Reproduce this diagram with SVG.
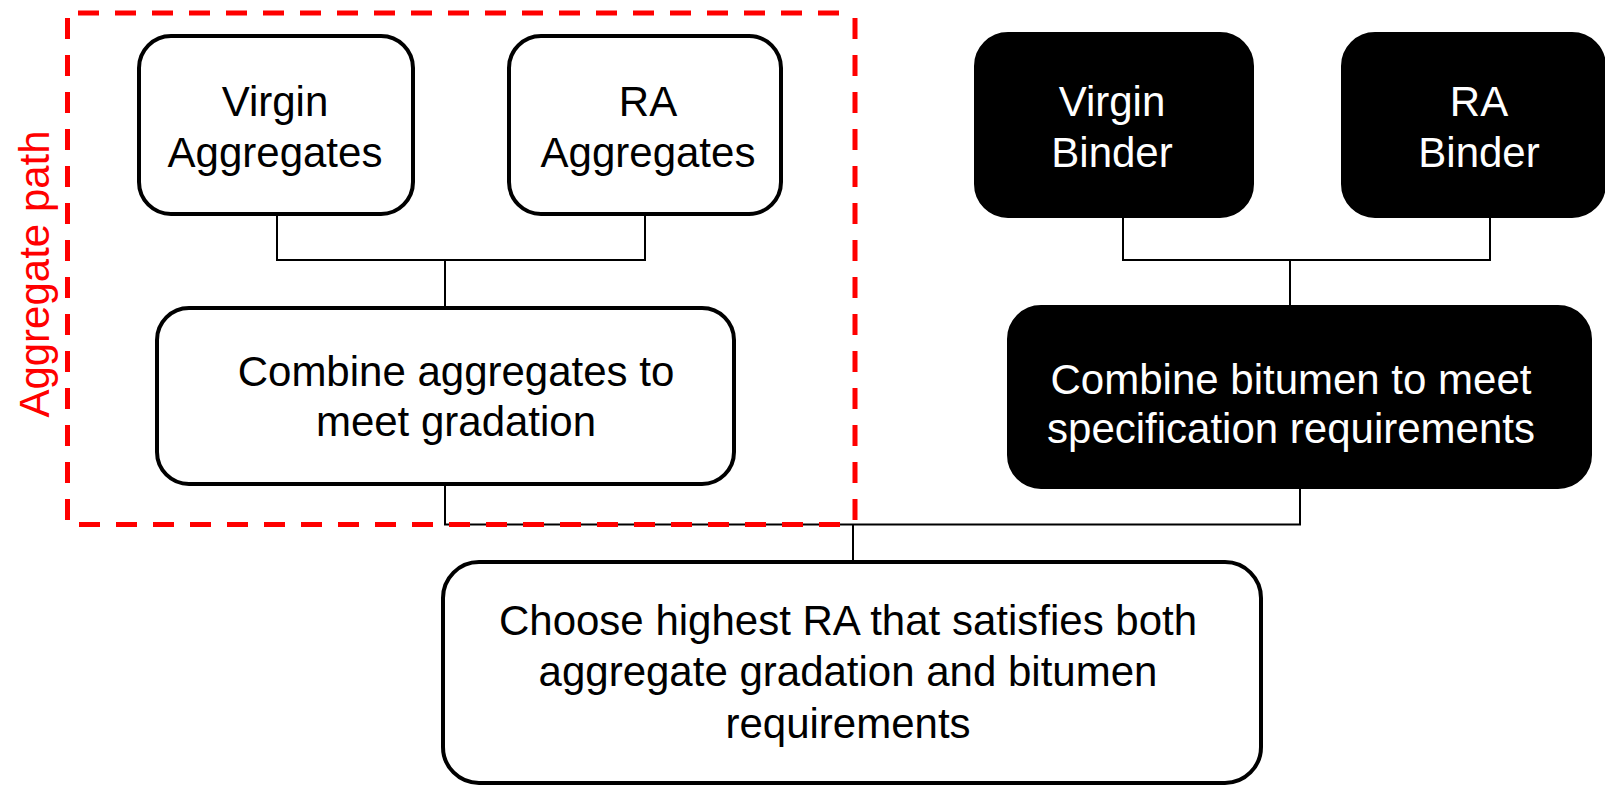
<svg xmlns="http://www.w3.org/2000/svg" width="1605" height="785" viewBox="0 0 1605 785">
<style>
.box{fill:#fff;stroke:#000;stroke-width:4}
.dark{fill:#000;stroke:#000;stroke-width:4}
.t{font-family:"Liberation Sans",Arial,sans-serif;font-size:42px;text-anchor:middle;fill:#000}
.tw{font-family:"Liberation Sans",Arial,sans-serif;font-size:42px;text-anchor:middle;fill:#fff}
.con{fill:none;stroke:#000;stroke-width:2}
.region{fill:none;stroke:#f00;stroke-width:5;stroke-dasharray:21 16}
</style>
<rect width="1605" height="785" fill="#fff"/>
<g id="connectors">
<path class="con" d="M277,214 V260 H645 V214 M445,260 V308"/>
<path class="con" d="M1123,216 V260 H1490 V216 M1290,260 V307"/>
<path class="con" d="M445,484 V524.5 H1300 V487 M853,524.5 V562"/>
</g>
<g id="virgin-aggregates">
<rect class="box" x="139" y="36" width="274" height="178" rx="32"/>
<text class="t" x="275" y="116">Virgin</text>
<text class="t" x="275" y="167">Aggregates</text>
</g>
<g id="ra-aggregates">
<rect class="box" x="509" y="36" width="272" height="178" rx="32"/>
<text class="t" x="648" y="116">RA</text>
<text class="t" x="648" y="167">Aggregates</text>
</g>
<g id="combine-aggregates">
<rect class="box" x="157" y="308" width="577" height="176" rx="32"/>
<text class="t" x="456" y="386">Combine aggregates to</text>
<text class="t" x="456" y="436">meet gradation</text>
</g>
<g id="virgin-binder">
<rect class="dark" x="976" y="34" width="276" height="182" rx="32"/>
<text class="tw" x="1112" y="116">Virgin</text>
<text class="tw" x="1112" y="167">Binder</text>
</g>
<g id="ra-binder">
<rect class="dark" x="1343" y="34" width="261" height="182" rx="32"/>
<text class="tw" x="1479" y="116">RA</text>
<text class="tw" x="1479" y="167">Binder</text>
</g>
<g id="combine-bitumen">
<rect class="dark" x="1009" y="307" width="581" height="180" rx="32"/>
<text class="tw" x="1291" y="394">Combine bitumen to meet</text>
<text class="tw" x="1291" y="443">specification requirements</text>
</g>
<g id="choose-ra">
<rect class="box" x="443" y="562" width="818" height="221" rx="36"/>
<text class="t" x="848" y="635">Choose highest RA that satisfies both</text>
<text class="t" x="848" y="686">aggregate gradation and bitumen</text>
<text class="t" x="848" y="738">requirements</text>
</g>
<g id="aggregate-path">
<path class="region" d="M78,13 H853 M855,18 V524.5 M840,524.5 H67.5 M67.5,520 V18"/>
<text font-family="Liberation Sans, Arial, sans-serif" font-size="42" fill="#f00" text-anchor="middle" transform="translate(49,274) rotate(-90)">Aggregate path</text>
</g>
</svg>
